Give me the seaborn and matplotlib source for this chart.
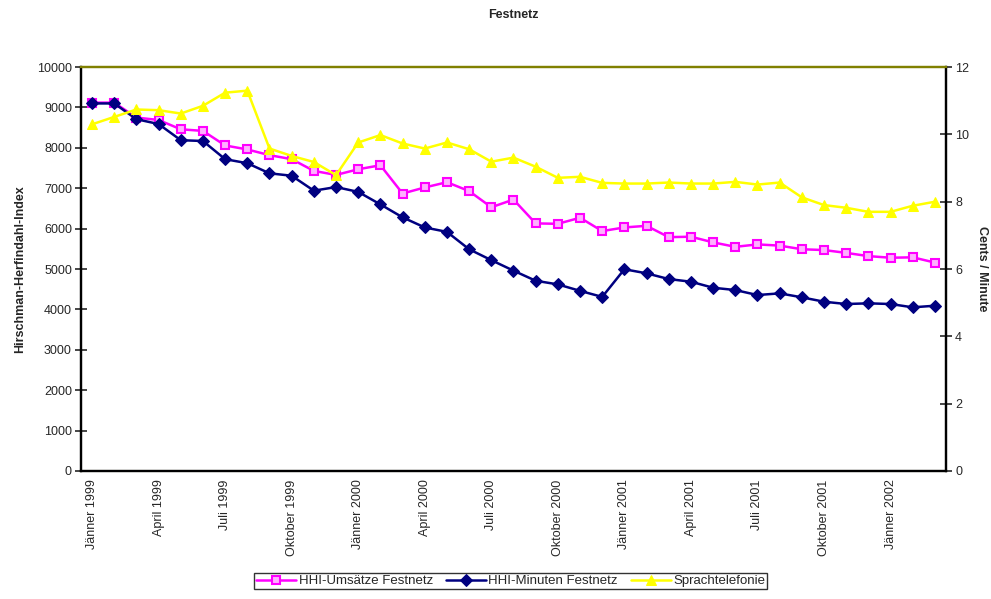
import matplotlib
matplotlib.use("Agg")
import matplotlib.pyplot as plt
import numpy as np
import pandas as pd
import seaborn as sns

## Data (monthly, Jänner 1999 - März 2002)
months = ["Jänner 1999", "Februar 1999", "März 1999", "April 1999", "Mai 1999", "Juni 1999",
          "Juli 1999", "August 1999", "September 1999", "Oktober 1999", "November 1999", "Dezember 1999",
          "Jänner 2000", "Februar 2000", "März 2000", "April 2000", "Mai 2000", "Juni 2000",
          "Juli 2000", "August 2000", "September 2000", "Oktober 2000", "November 2000", "Dezember 2000",
          "Jänner 2001", "Februar 2001", "März 2001", "April 2001", "Mai 2001", "Juni 2001",
          "Juli 2001", "August 2001", "September 2001", "Oktober 2001", "November 2001", "Dezember 2001",
          "Jänner 2002", "Februar 2002", "März 2002"]

hhi_umsatz = [9120, 9120, 8750, 8690, 8460, 8420, 8060, 7960, 7820, 7720, 7430, 7330,
              7470, 7570, 6870, 7020, 7150, 6930, 6530, 6720, 6130, 6120, 6270, 5940,
              6030, 6070, 5790, 5800, 5660, 5550, 5610, 5580, 5490, 5470, 5400, 5320,
              5280, 5290, 5160]

hhi_minuten = [9100, 9100, 8710, 8590, 8190, 8170, 7720, 7620, 7370, 7310, 6940, 7030,
               6910, 6600, 6280, 6030, 5920, 5490, 5220, 4960, 4710, 4620, 4460, 4310,
               4995, 4894, 4752, 4686, 4537, 4480, 4356, 4398, 4300, 4191, 4134, 4151,
               4134, 4052, 4092]

sprache = [10.30, 10.52, 10.74, 10.72, 10.62, 10.85, 11.24, 11.30, 9.58, 9.36, 9.18, 8.79,
           9.76, 9.98, 9.73, 9.58, 9.76, 9.56, 9.19, 9.31, 9.04, 8.71, 8.74, 8.56,
           8.54, 8.54, 8.57, 8.54, 8.54, 8.59, 8.51, 8.57, 8.13, 7.90, 7.82, 7.70,
           7.70, 7.88, 8.00]

df = pd.DataFrame({"pos": np.arange(len(months)), "Monat": months,
                   "HHI-Umsätze Festnetz": hhi_umsatz,
                   "HHI-Minuten Festnetz": hhi_minuten,
                   "Sprachtelefonie": sprache})

sns.set_style("white")
plt.rcParams['font.family'] = ['Liberation Sans', 'DejaVu Sans']

fig, ax = plt.subplots(figsize=(9.91, 5.99), dpi=100)
plt.subplots_adjust(left=0.0817, right=0.9546, top=0.888, bottom=0.2137)
ax2 = ax.twinx()

sns.lineplot(data=df, x="pos", y="HHI-Umsätze Festnetz", ax=ax, color="#FF00FF", lw=1.8,
             marker="s", markersize=5.5, markerfacecolor="#FFB0FF", markeredgecolor="#FF00FF",
             markeredgewidth=1.5, label="HHI-Umsätze Festnetz", legend=False)
sns.lineplot(data=df, x="pos", y="HHI-Minuten Festnetz", ax=ax, color="#000080", lw=1.8,
             marker="D", markersize=6, markeredgecolor="#000080",
             label="HHI-Minuten Festnetz", legend=False)
sns.lineplot(data=df, x="pos", y="Sprachtelefonie", ax=ax2, color="#FFFF00", lw=1.8,
             marker="^", markersize=7.5, markeredgecolor="#FFFF00",
             label="Sprachtelefonie", legend=False)

ax.set_xlim(-0.5, len(months) - 0.5)
ax.set_ylim(0, 10000)
ax2.set_ylim(0, 12)
ax.set_yticks(np.arange(0, 10001, 1000))
ax2.set_yticks(np.arange(0, 13, 2))

# category labels every 3rd month, ticks between categories
lab_pos = np.arange(0, len(months), 3)
ax.set_xticks(lab_pos)
ax.set_xticklabels([months[i] for i in lab_pos], rotation=90, fontsize=9)
ax.set_xticks(np.arange(-0.5, len(months)), minor=True)
ax.tick_params(axis='x', which='major', length=0, pad=6)
ax.tick_params(axis='x', which='minor', direction='inout', length=9, width=1.2, color='black')
ax.tick_params(axis='y', direction='inout', length=9, width=1.2, labelsize=9, pad=2)
ax2.tick_params(axis='y', direction='inout', length=9, width=1.2, labelsize=9, pad=2)

ax.set_xlabel("")
ax.set_ylabel("Hirschman-Herfindahl-Index", fontsize=9, fontweight='bold', labelpad=8)
ax2.set_ylabel("Cents / Minute", fontsize=9, fontweight='bold', rotation=-90, labelpad=14)
ax.set_title("Festnetz", fontsize=9, fontweight='bold', pad=35)

for a in (ax, ax2):
    for s in ['left', 'right', 'bottom']:
        a.spines[s].set_color('black')
        a.spines[s].set_linewidth(1.6)
    a.spines['top'].set_color('#808000')
    a.spines['top'].set_linewidth(1.6)
ax.spines['bottom'].set_color('#202000')

h1, l1 = ax.get_legend_handles_labels()
h2, l2 = ax2.get_legend_handles_labels()
leg = fig.legend(h1 + h2, l1 + l2, loc='center', bbox_to_anchor=(0.5155, 0.030), ncol=3,
                 fontsize=9.5, frameon=True, fancybox=False, borderpad=0.15,
                 handlelength=3.0, handletextpad=0.2, columnspacing=1.0, borderaxespad=0)
leg.get_frame().set_edgecolor('black')
leg.get_frame().set_linewidth(1.0)

fig.savefig("out.png", dpi=100)
